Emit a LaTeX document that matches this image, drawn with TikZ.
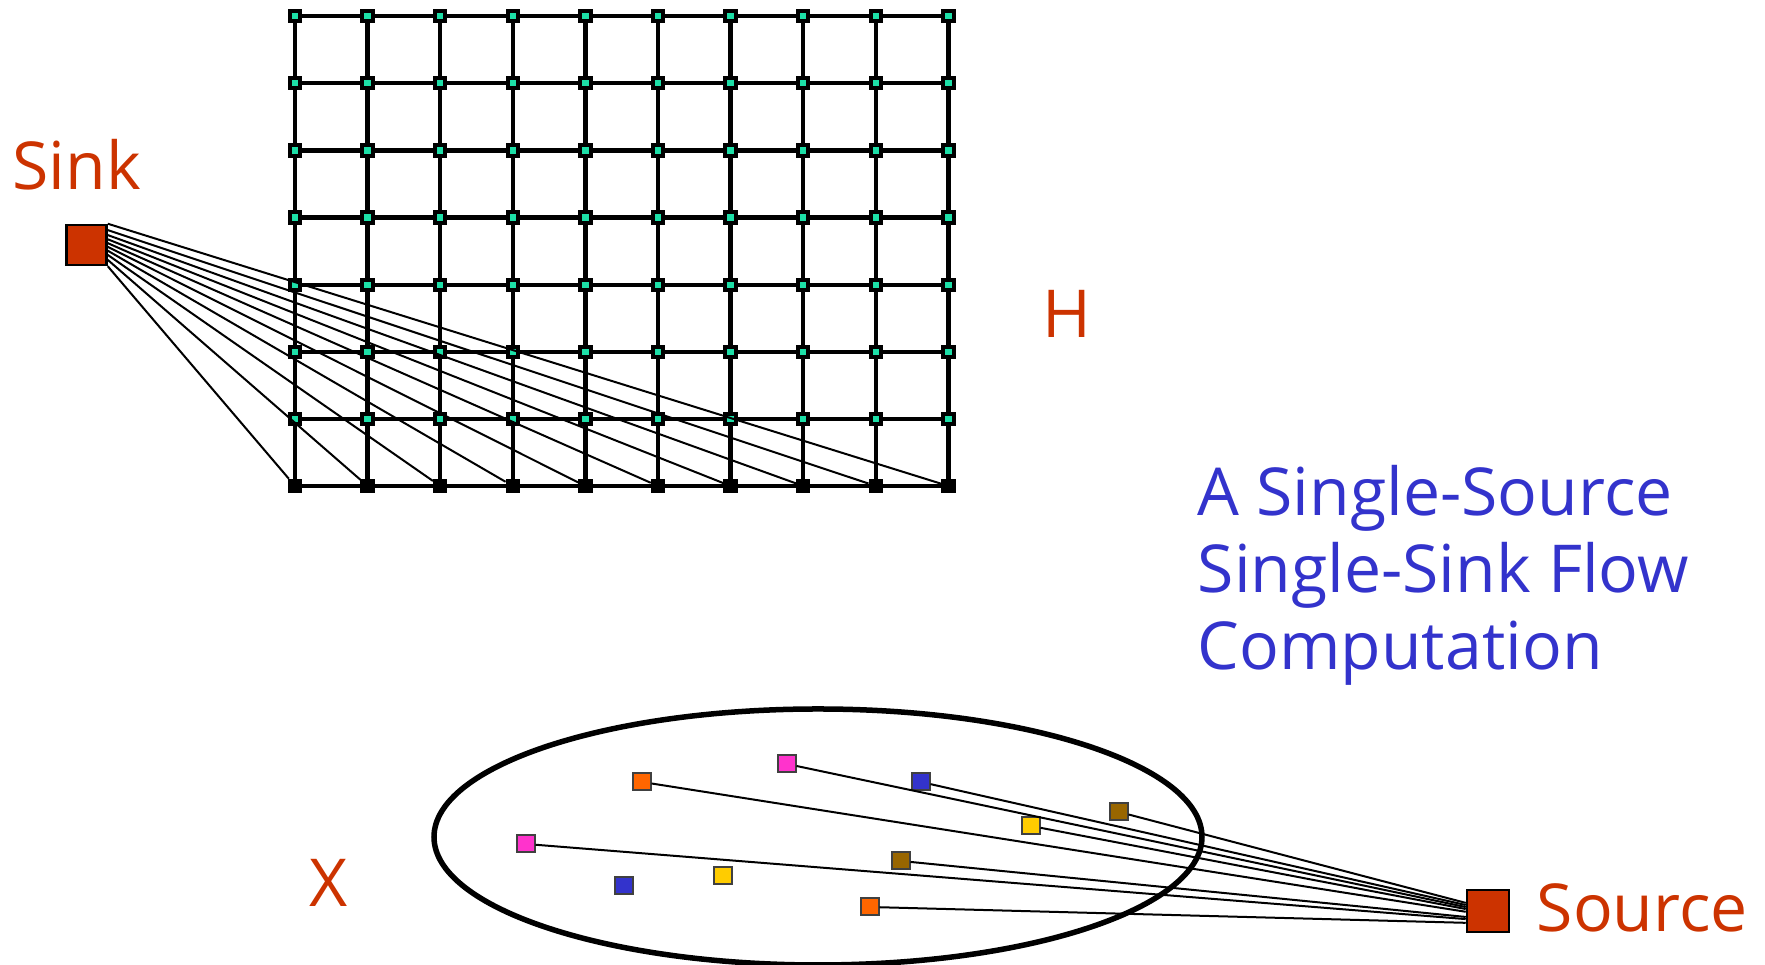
\documentclass[tikz,border=0pt]{standalone}
\usepackage{fontspec}
\setmainfont{Open Sans}
\usetikzlibrary{positioning,calc}
\definecolor{rust}{HTML}{CC3300}
\definecolor{ink}{HTML}{3333CC}
\definecolor{mint}{HTML}{1DE0A8}
\definecolor{xpink}{HTML}{FF33CC}
\definecolor{xorange}{HTML}{FF6600}
\definecolor{xblue}{HTML}{3333CC}
\definecolor{xbrown}{HTML}{996600}
\definecolor{xyellow}{HTML}{FFCC00}
\tikzset{
  gridnode/.style={draw=black, line width=0.4mm, fill=mint, minimum size=1.05mm, inner sep=0pt},
  basenode/.style={gridnode, fill=black},
  termbox/.style={draw=black, line width=0.25mm, fill=rust, minimum size=4mm, inner sep=0pt},
  dotbox/.style={draw=black!75, line width=0.2mm, minimum size=1.7mm, inner sep=0pt},
  gridline/.style={line width=0.45mm},
  flowline/.style={line width=0.2mm},
  lbl/.style={text=rust, inner sep=0pt, font=\fontsize{18.8}{21.5}\selectfont},
  titletext/.style={text=ink, inner sep=0pt, align=left, font=\fontsize{18.8}{21.9}\selectfont}}

\begin{document}
\begin{tikzpicture}[x=0.01cm, y=-0.01cm]
  \useasboundingbox (0,0) rectangle (1765,965);
  % the grid H
  \foreach \c in {0,...,9} {
    \foreach \r in {0,...,6}
      \node[gridnode] (g-\c-\r) at ({295+72.6*\c},{16+67.2*\r}) {};
    \node[basenode] (g-\c-7) at ({295+72.6*\c},486) {};
  }
  \foreach \c in {0,...,9}
    \foreach \r [count=\s] in {0,...,6}
      \draw[gridline] (g-\c-\r) -- (g-\c-\s);
  \foreach \c [count=\d] in {0,...,8}
    \foreach \r in {0,...,7}
      \draw[gridline] (g-\c-\r) -- (g-\d-\r);
  \node[lbl, anchor=base west] (hlbl) at (1042,338) {H};

  % sink
  \node[termbox] (sink) at (86.5,245) {};
  \node[lbl, anchor=base west] (sinklbl) at (12,190) {Sink};
  \foreach \c in {0,...,9} {
    \pgfmathtruncatemacro\a{mod(315+10*\c,360)}
    \draw[flowline] (sink.\a) -- (g-\c-7);
  }

  % the set X
  \draw[line width=0.55mm] (818,837) ellipse [x radius=384, y radius=128];
  \node[lbl, anchor=base west] (xlbl) at (309,907) {X};
  \foreach \n/\x/\y/\col in {1/642/782/xorange, 2/787/764/xpink, 3/921/782/xblue,
      4/1119/812/xbrown, 5/1031/826/xyellow, 6/526/844/xpink, 7/624/886/xblue,
      8/723/876/xyellow, 9/901/861/xbrown, 10/870/907/xorange}
    \node[dotbox, fill=\col] (x\n) at (\x,\y) {};

  % source
  \node[termbox, minimum size=4.2mm] (src) at (1488,911) {};
  \node[lbl, anchor=base west] (srclbl) at (1536,932) {Source};
  \foreach \n/\a in {4/160, 3/165, 2/170, 5/175, 1/182, 9/195, 6/200, 10/208}
    \draw[flowline] (x\n) -- (src.\a);

  \node[titletext, anchor=base west] (title) at (1197,670)
    {A Single-Source\\Single-Sink Flow\\Computation};
\end{tikzpicture}
\end{document}
